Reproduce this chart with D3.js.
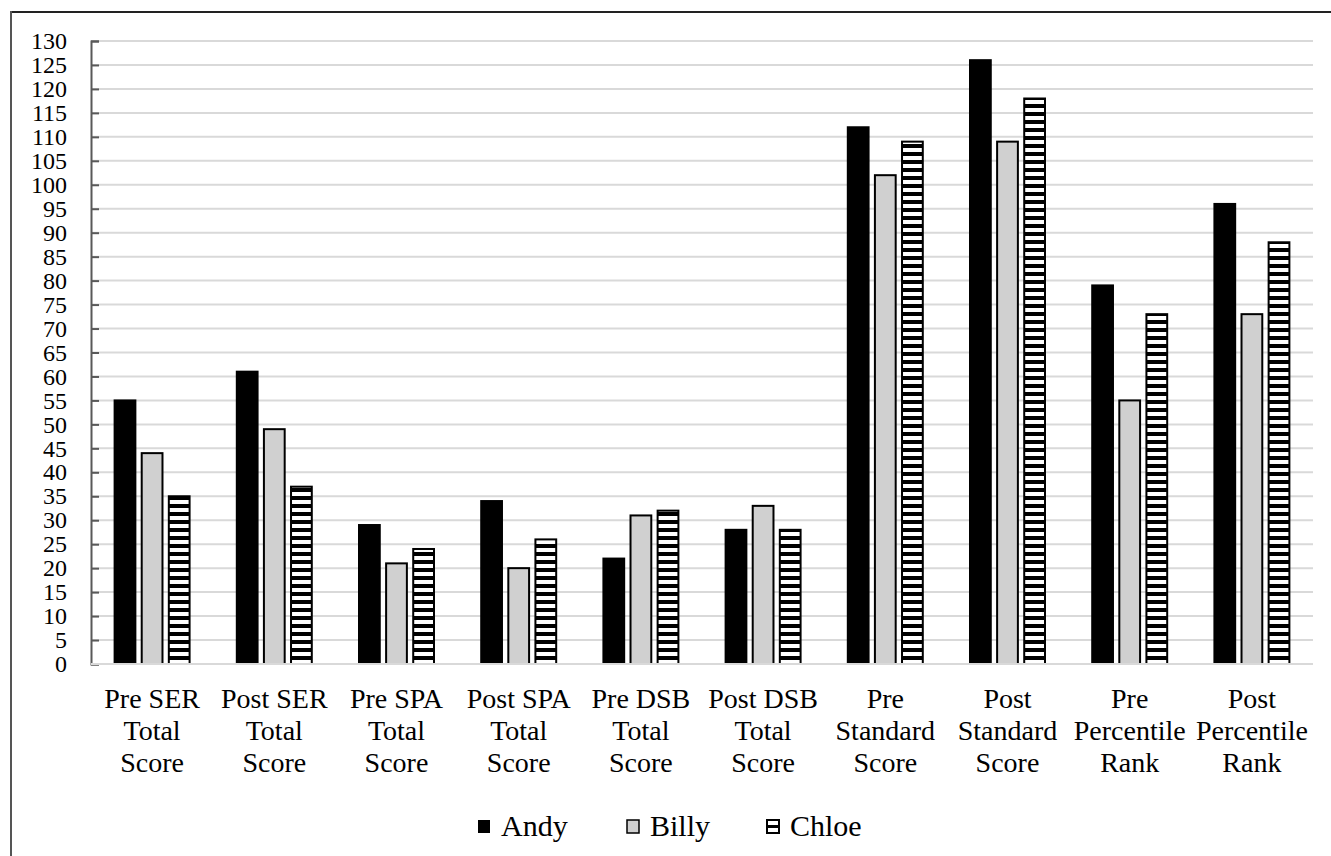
<!DOCTYPE html>
<html>
<head>
<meta charset="utf-8">
<script src="https://cdn.jsdelivr.net/npm/d3@7"></script>
<style>
  html, body { margin: 0; padding: 0; background: #fff; }
  svg { display: block; }
</style>
</head>
<body>
<svg id="chart" width="1331" height="856"></svg>
<script>
const categories = [
  ["Pre SER", "Total", "Score"],
  ["Post SER", "Total", "Score"],
  ["Pre SPA", "Total", "Score"],
  ["Post SPA", "Total", "Score"],
  ["Pre DSB", "Total", "Score"],
  ["Post DSB", "Total", "Score"],
  ["Pre", "Standard", "Score"],
  ["Post", "Standard", "Score"],
  ["Pre", "Percentile", "Rank"],
  ["Post", "Percentile", "Rank"]
];
const seriesNames = ["Andy", "Billy", "Chloe"];
const andy  = [55, 61, 29, 34, 22, 28, 112, 126, 79, 96];
const billy = [44, 49, 21, 20, 31, 33, 102, 109, 55, 73];
const chloe = [35, 37, 24, 26, 32, 28, 109, 118, 73, 88];
const yTicks = d3.range(0, 131, 5);

const FONT = "'Liberation Serif', 'Times New Roman', 'DejaVu Serif', serif";
const seriesValues = [andy, billy, chloe];
const catKeys = categories.map(c => c.join(" "));

const svg = d3.select("#chart").style("font-family", FONT);

// pattern for Chloe
const defs = svg.append("defs");
const pat = defs.append("pattern")
  .attr("id", "stripes").attr("patternUnits", "userSpaceOnUse")
  .attr("width", 8).attr("height", 8).attr("y", 0);
pat.append("rect").attr("width", 8).attr("height", 8).attr("fill", "#fff");
pat.append("rect").attr("width", 8).attr("height", 4).attr("fill", "#000");

// frame
svg.append("line").attr("x1", 11).attr("x2", 1331).attr("y1", 12).attr("y2", 12)
  .attr("stroke", "#222").attr("stroke-width", 2);
svg.append("line").attr("x1", 11).attr("x2", 11).attr("y1", 11).attr("y2", 856)
  .attr("stroke", "#555").attr("stroke-width", 2);

const plotLeft = 91, plotRight = 1313, plotTop = 41, plotBottom = 664;

const x = d3.scaleBand().domain(catKeys).range([plotLeft, plotRight])
  .paddingInner(0.37).paddingOuter(0.185);
const xs = d3.scaleBand().domain(seriesNames).range([0, x.bandwidth()]).paddingInner(0.16);
const y = d3.scaleLinear().domain([0, 130]).range([plotBottom, plotTop]);

// gridlines
svg.append("g").selectAll("line").data(yTicks).join("line")
  .attr("x1", plotLeft).attr("x2", plotRight)
  .attr("y1", d => y(d)).attr("y2", d => y(d))
  .attr("stroke", "#d9d9d9").attr("stroke-width", 2);

// y axis
const yAxis = d3.axisLeft(y).tickValues(yTicks).tickSize(-8).tickPadding(24);
const gy = svg.append("g").attr("transform", `translate(${plotLeft},0)`).call(yAxis);
gy.attr("font-family", null).attr("font-size", null);
gy.select(".domain").attr("stroke", "#595959").attr("stroke-width", 2);
gy.selectAll(".tick line").attr("stroke", "#595959").attr("stroke-width", 2);
gy.selectAll(".tick text").style("font-size", "24px")
  .style("font-family", FONT).attr("fill", "#000");

// bars
const fills = ["#000", "#d0d0d0", "url(#stripes)"];
const groups = svg.append("g").selectAll("g").data(catKeys).join("g")
  .attr("transform", d => `translate(${x(d)},0)`);
groups.selectAll("rect")
  .data((d, i) => seriesNames.map((s, j) => ({ s, j, v: seriesValues[j][i] })))
  .join("rect")
  .attr("x", d => xs(d.s) + 1)
  .attr("width", xs.bandwidth() - 2)
  .attr("y", d => y(d.v))
  .attr("height", d => y(0) - y(d.v))
  .attr("fill", d => fills[d.j])
  .attr("stroke", "#000")
  .attr("stroke-width", 2);

// bottom axis line
svg.append("line").attr("x1", plotLeft).attr("x2", plotRight).attr("y1", plotBottom).attr("y2", plotBottom)
  .attr("stroke", "#d9d9d9").attr("stroke-width", 2);

// x labels
const xl = svg.append("g");
categories.forEach((lines, i) => {
  const cx = x(catKeys[i]) + x.bandwidth() / 2;
  const t = xl.append("text").attr("text-anchor", "middle")
    .style("font-size", "28px").style("font-family", FONT).attr("fill", "#000");
  lines.forEach((ln, k) => {
    t.append("tspan").attr("x", cx).attr("y", 708 + k * 32).text(ln);
  });
});

// legend
const legendX = [477, 626, 766];
const lg = svg.append("g");
seriesNames.forEach((s, j) => {
  const g = lg.append("g").attr("transform", `translate(${legendX[j]},819)`);
  if (j === 2) {
    g.append("rect").attr("x", 1).attr("y", 1).attr("width", 12).attr("height", 13)
      .attr("fill", "#fff").attr("stroke", "#000").attr("stroke-width", 2);
    g.append("rect").attr("x", 1).attr("y", 6).attr("width", 12).attr("height", 3).attr("fill", "#000");
  } else {
    g.append("rect").attr("x", 1).attr("y", 1).attr("width", 12).attr("height", 13)
      .attr("fill", fills[j]).attr("stroke", "#000").attr("stroke-width", j === 1 ? 1.5 : 0);
  }
  g.append("text").attr("x", 24).attr("y", 17).style("font-size", "30px")
    .style("font-family", FONT).attr("fill", "#000").text(s);
});
</script>
</body>
</html>
